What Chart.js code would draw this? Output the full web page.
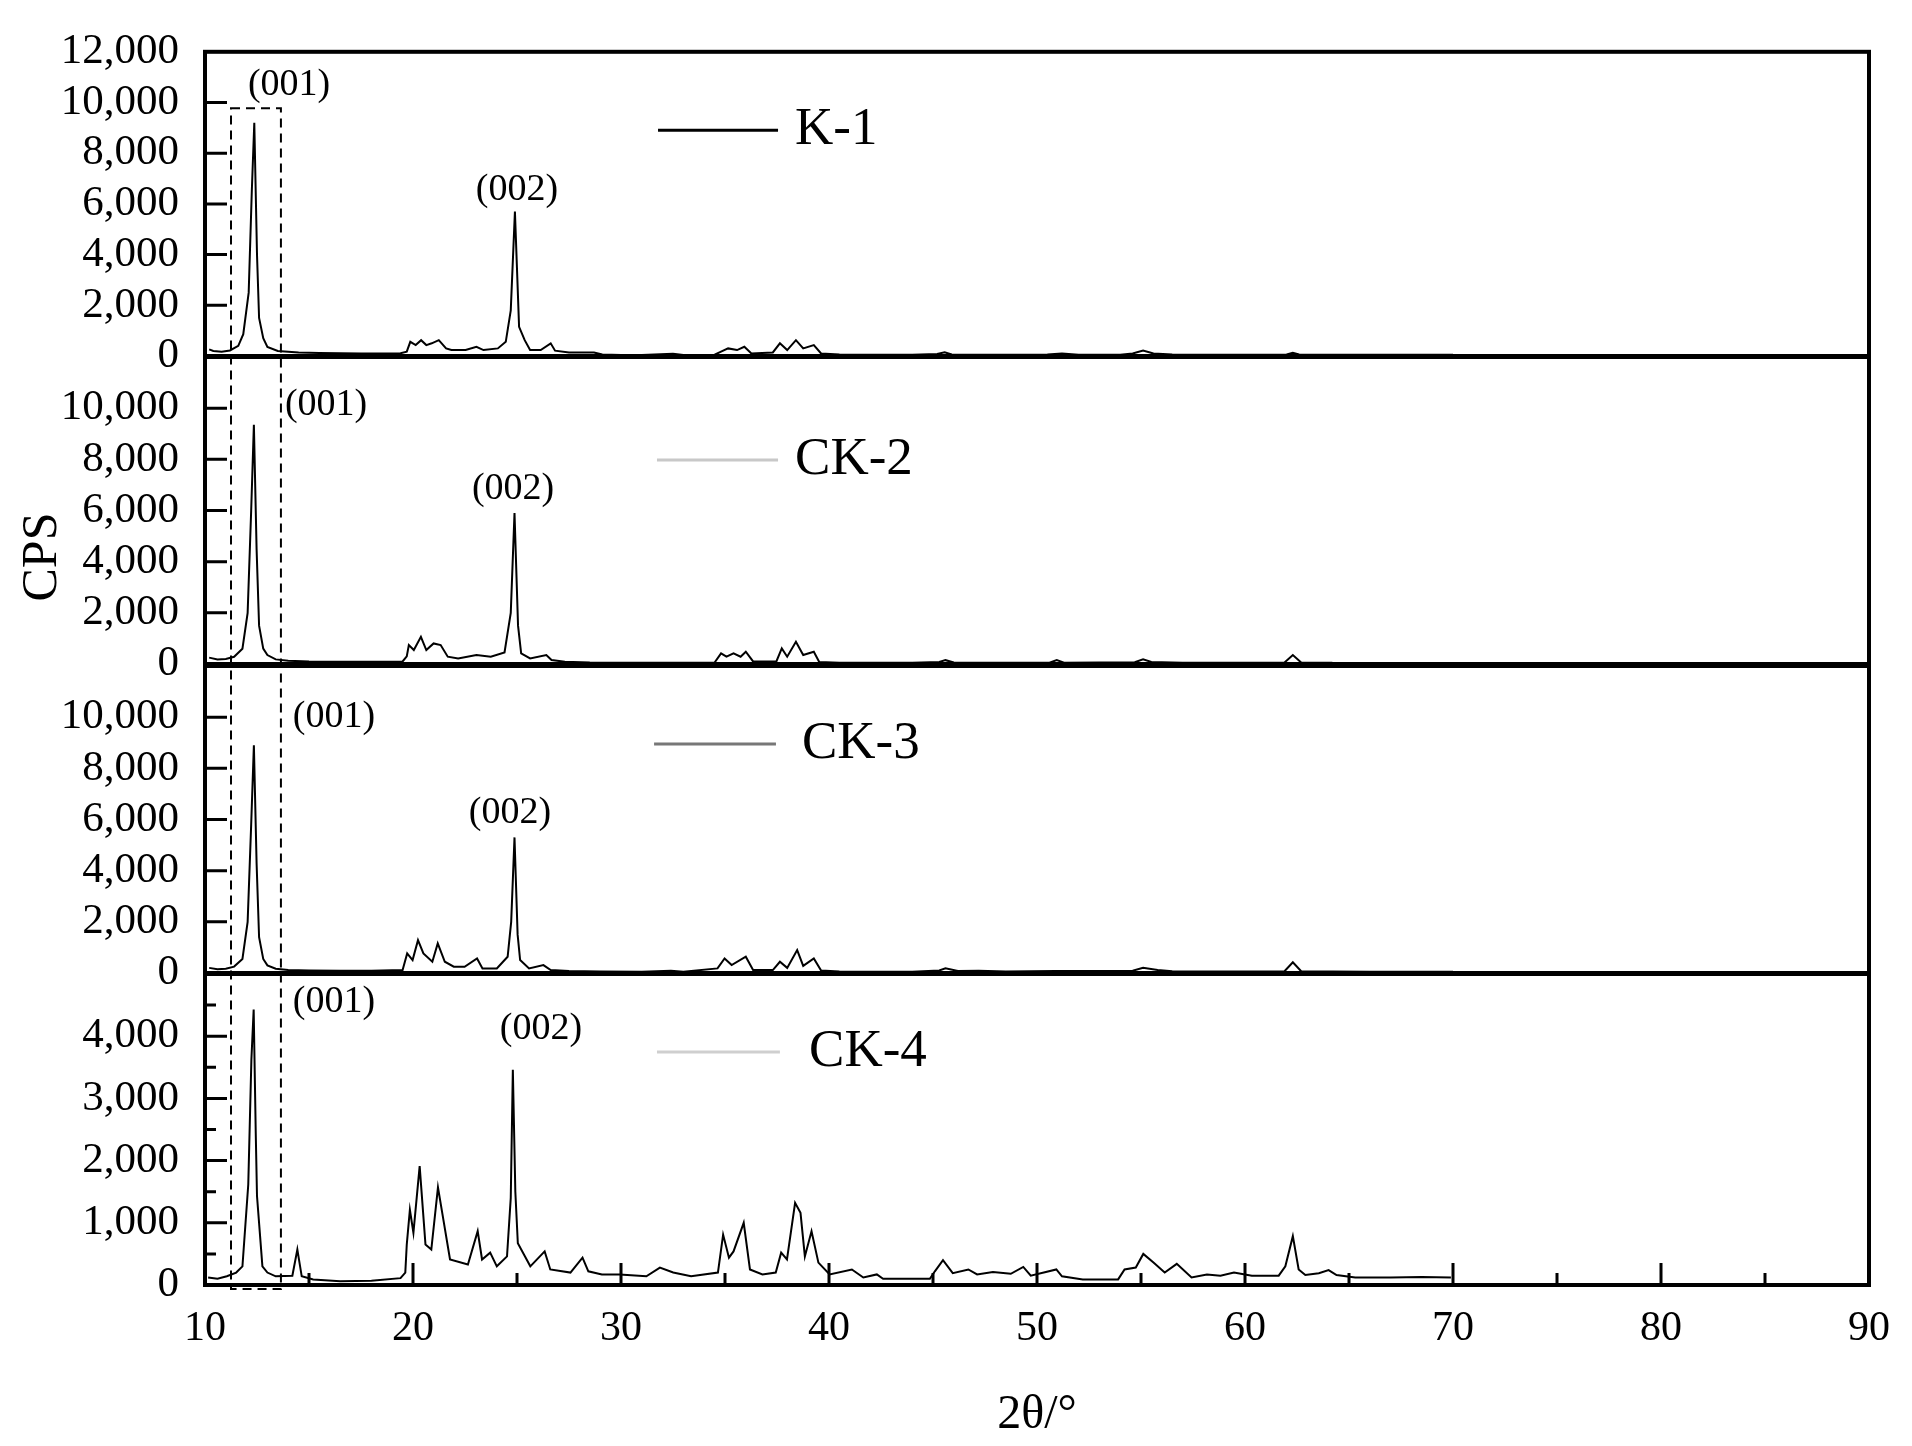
<!DOCTYPE html>
<html>
<head>
<meta charset="utf-8">
<script src="https://cdn.jsdelivr.net/npm/chart.js@4.4.1/dist/chart.umd.min.js"></script>
<style>
  html, body { margin: 0; padding: 0; background: #fff; }
  #wrap { position: relative; width: 1912px; height: 1446px; background: #fff; }
  #wrap canvas { position: absolute; left: 0; top: 0; }
</style>
</head>
<body>
<div id="wrap">
  <canvas id="p1" width="1912" height="1446"></canvas>
  <canvas id="p2" width="1912" height="1446"></canvas>
  <canvas id="p3" width="1912" height="1446"></canvas>
  <canvas id="p4" width="1912" height="1446"></canvas>
</div>
<script>
// 2theta (deg) / CPS, one pair of arrays per sample
const k1Theta = [10.2,10.4,10.8,11.2,11.6,11.84,12.1,12.25,12.37,12.5,12.6,12.8,13.0,13.5,14.5,15.5,16.5,17.5,18.5,19.4,19.7,19.87,20.13,20.39,20.64,20.9,21.24,21.59,21.85,22.53,23.05,23.39,24.08,24.46,24.7,24.9,25.1,25.37,25.63,26.14,26.62,26.83,27.5,28.7,29.1,30,31,32.5,33,34.5,34.81,35.15,35.58,35.93,36.27,37.3,37.64,37.99,38.41,38.76,39.27,39.62,40.5,42,44,45.2,45.56,45.9,47,49,50.5,51.2,52,54,54.6,55.1,55.6,56.5,58,60,62,62.3,62.6,64,66,68,70];
const k1Cps = [260,200,170,220,400,860,2500,6500,9200,4000,1500,700,360,200,140,120,110,100,100,110,170,560,430,625,430,500,625,300,235,235,365,235,300,560,1800,5700,1150,625,235,235,500,210,140,140,60,40,40,90,40,50,170,300,235,365,100,140,500,235,625,300,430,100,60,50,50,80,150,60,50,50,60,100,50,50,100,220,100,60,50,50,60,130,60,50,50,50,50];

const ck2Theta = [10.2,10.6,11.0,11.4,11.8,12.05,12.22,12.35,12.48,12.6,12.8,13.0,13.4,14,15,16.5,18,19.5,19.7,19.8,20.04,20.38,20.64,20.99,21.33,21.67,22.17,23.05,23.74,24.4,24.7,24.88,25.05,25.2,25.63,26.41,26.66,27.3,28.5,30,32,34.5,34.81,35.07,35.41,35.75,36.0,36.35,37.47,37.73,37.99,38.41,38.76,39.27,39.53,40.5,42,44,45.3,45.6,46,48,50.6,50.95,51.3,54.7,55.1,55.5,57,60,61.9,62.3,62.7,64.2];
const ck2Cps = [250,180,200,280,600,2000,6000,9350,4500,1500,600,350,180,130,100,90,90,100,300,740,545,1060,545,805,740,285,220,350,285,450,2000,5900,1500,415,220,350,155,90,60,50,50,60,415,285,415,285,480,100,100,610,285,870,350,480,80,50,50,50,80,150,60,50,50,150,50,70,180,80,50,50,60,350,60,50];

const ck3Theta = [10.2,10.6,11.0,11.4,11.8,12.05,12.22,12.35,12.48,12.6,12.8,13.0,13.4,14,15,16.5,18,19.5,19.72,19.98,20.24,20.5,20.93,21.19,21.53,21.96,22.48,23.08,23.34,24.03,24.55,24.72,24.88,25.03,25.15,25.58,26.27,26.62,27.5,29,31,32.4,33,34.64,34.98,35.32,36.0,36.35,37.3,37.64,37.99,38.47,38.76,39.27,39.62,40.5,42,44,45.3,45.6,46.2,47.2,48.5,50.9,54.6,55.1,55.8,56.5,58,60,61.9,62.3,62.7,64.2,66,70];
const ck3Cps = [200,150,170,250,550,2000,5800,8900,4300,1400,550,300,170,120,100,90,90,115,765,505,1285,765,440,1155,440,245,245,570,180,180,635,2000,5300,1500,505,180,310,115,80,60,50,90,50,180,570,310,635,115,115,440,200,895,280,570,100,60,50,50,100,180,80,90,60,80,90,200,120,70,60,60,70,420,70,60,50,50];

const ck4Theta = [10.15,10.6,11.05,11.5,11.8,12.08,12.23,12.34,12.44,12.5,12.76,13.0,13.4,14.2,14.44,14.65,15.2,16.5,18,19.4,19.63,19.7,19.85,20.02,20.32,20.6,20.88,21.2,21.46,21.78,22.64,23.11,23.32,23.71,24.03,24.52,24.7,24.8,24.92,25.04,25.64,26.33,26.6,27.57,28.15,28.43,29.08,29.93,31.22,31.87,32.51,33.37,34.66,34.91,35.19,35.41,35.9,36.2,36.8,37.44,37.7,37.98,38.37,38.63,38.84,39.16,39.49,40.03,41.1,41.65,42.3,42.6,44.85,45.09,45.48,45.95,46.7,47.12,47.88,48.74,49.34,49.7,50.93,51.2,52.2,53.9,54.21,54.75,55.11,55.6,56.14,56.72,57.43,58.17,58.82,59.47,60.33,61.62,61.94,62.3,62.58,62.9,63.55,64.02,64.4,65.3,67,68.5,69.9];
const ck4Cps = [120,100,140,200,300,1615,3620,4430,2440,1430,300,200,140,150,570,140,90,60,70,110,200,650,1210,840,1910,650,570,1570,1050,410,330,865,410,520,300,460,1400,3460,1500,670,300,540,250,200,440,220,170,170,140,280,200,140,200,810,440,540,1000,250,170,200,520,410,1320,1160,460,865,360,170,250,120,170,100,100,220,400,190,250,170,210,180,290,150,250,140,90,90,250,280,500,360,200,340,120,170,150,200,150,150,300,785,250,160,190,240,160,120,120,130,120];

const xTicksMajor = [20, 30, 40, 50, 60, 70, 80];
const xTicksMinor = [15, 25, 35, 45, 55, 65, 75, 85];

const serif = '"Liberation Serif", "Times New Roman", serif';

const panels = [
  { id: 'p1', name: 'K-1', theta: k1Theta, cps: k1Cps, top: 49, bottom: 356, max: 12000, step: 2000, showTop: true,
    majorY: [2000, 4000, 6000, 8000, 10000], minorY: [],
    tags: [['(001)', 14.04, 10700], ['(002)', 25.0, 6560]],
    legend: { color: '#000000', y: 8910, x0: 31.78, x1: 37.55, xt: 38.37 } },
  { id: 'p2', name: 'CK-2', theta: ck2Theta, cps: ck2Cps, top: 357, bottom: 664, max: 12000, step: 2000, showTop: false,
    majorY: [2000, 4000, 6000, 8000, 10000], minorY: [],
    tags: [['(001)', 15.82, 10120], ['(002)', 24.81, 6840]],
    legend: { color: '#c8c8c8', y: 7975, x0: 31.73, x1: 37.55, xt: 38.37 } },
  { id: 'p3', name: 'CK-3', theta: ck3Theta, cps: ck3Cps, top: 666, bottom: 973, max: 12000, step: 2000, showTop: false,
    majorY: [2000, 4000, 6000, 8000, 10000], minorY: [],
    tags: [['(001)', 16.2, 10000], ['(002)', 24.66, 6255]],
    legend: { color: '#777777', y: 8950, x0: 31.59, x1: 37.45, xt: 38.7 } },
  { id: 'p4', name: 'CK-4', theta: ck4Theta, cps: ck4Cps, top: 974, bottom: 1285, max: 5000, step: 1000, showTop: false,
    majorY: [1000, 2000, 3000, 4000], minorY: [500, 1500, 2500, 3500, 4500],
    tags: [['(001)', 16.2, 4550], ['(002)', 26.15, 4115]],
    legend: { color: '#cfcfcf', y: 3745, x0: 31.73, x1: 37.64, xt: 39.04 } }
];

// dashed box around the (001) reflection
const boxLeft = 11.25, boxRight = 13.65, boxTop = 9770, boxBottom = -65;

const charts = [];

function decorPlugin(p, i, isBottom) {
  return {
    id: 'decor' + i,
    afterDraw(chart) {
      const { ctx, chartArea: a } = chart;
      const x = chart.scales.x, y = chart.scales.y;
      ctx.save();
      ctx.strokeStyle = '#000';
      ctx.lineWidth = 3;
      ctx.beginPath();
      p.majorY.forEach(v => { const py = y.getPixelForValue(v); ctx.moveTo(a.left, py); ctx.lineTo(a.left + 22, py); });
      p.minorY.forEach(v => { const py = y.getPixelForValue(v); ctx.moveTo(a.left, py); ctx.lineTo(a.left + 11, py); });
      if (isBottom) {
        xTicksMajor.forEach(v => { const px = x.getPixelForValue(v); ctx.moveTo(px, a.bottom); ctx.lineTo(px, a.bottom - 22); });
        xTicksMinor.forEach(v => { const px = x.getPixelForValue(v); ctx.moveTo(px, a.bottom); ctx.lineTo(px, a.bottom - 12); });
      }
      ctx.stroke();
      ctx.lineWidth = 4;
      ctx.strokeRect(a.left, a.top, a.right - a.left, a.bottom - a.top);

      ctx.fillStyle = '#000';
      ctx.font = '38px ' + serif;
      ctx.textAlign = 'center';
      ctx.textBaseline = 'middle';
      p.tags.forEach(([t, tx, ty]) => ctx.fillText(t, x.getPixelForValue(tx), y.getPixelForValue(ty)));

      const L = p.legend;
      const ly = y.getPixelForValue(L.y);
      ctx.strokeStyle = L.color;
      ctx.lineWidth = 3;
      ctx.beginPath();
      ctx.moveTo(x.getPixelForValue(L.x0), ly);
      ctx.lineTo(x.getPixelForValue(L.x1), ly);
      ctx.stroke();
      ctx.font = '53px ' + serif;
      ctx.textAlign = 'left';
      ctx.fillText(p.name, x.getPixelForValue(L.xt), ly);
      ctx.restore();
    }
  };
}

const boxPlugin = {
  id: 'box',
  afterDraw(chart) {
    const ctx = chart.ctx;
    const x = chart.scales.x, y = chart.scales.y;
    const top = charts[0].scales.y.getPixelForValue(boxTop);
    const xl = x.getPixelForValue(boxLeft), xr = x.getPixelForValue(boxRight);
    const yb = y.getPixelForValue(boxBottom);
    ctx.save();
    ctx.strokeStyle = '#000';
    ctx.lineWidth = 2;
    ctx.setLineDash([9, 6]);
    ctx.strokeRect(xl, top, xr - xl, yb - top);
    ctx.setLineDash([]);
    // y axis title
    ctx.translate(43, 557);
    ctx.rotate(-Math.PI / 2);
    ctx.fillStyle = '#000';
    ctx.font = '50px ' + serif;
    ctx.textAlign = 'center';
    ctx.textBaseline = 'middle';
    ctx.fillText('CPS', 0, 0);
    ctx.restore();
  }
};

panels.forEach((p, i) => {
  const isBottom = i === panels.length - 1;
  const points = p.theta.map((t, k) => ({ x: t, y: p.cps[k] }));
  const chart = new Chart(document.getElementById(p.id), {
    type: 'line',
    data: {
      datasets: [{
        label: p.name,
        data: points,
        borderColor: '#000',
        borderWidth: 2,
        pointRadius: 0,
        tension: 0,
        fill: false
      }]
    },
    options: {
      responsive: false,
      animation: false,
      devicePixelRatio: 1,
      layout: {
        autoPadding: false,
        padding: { left: 0, right: 43, top: p.top, bottom: isBottom ? 0 : 1446 - p.bottom }
      },
      plugins: { legend: { display: false }, tooltip: { enabled: false } },
      scales: {
        x: {
          type: 'linear',
          min: 10,
          max: 90,
          display: isBottom,
          grid: { display: false, drawTicks: false },
          border: { display: false },
          ticks: { stepSize: 10, autoSkip: false, maxRotation: 0, padding: 19, color: '#000', font: { family: serif, size: 42 } },
          title: { display: true, text: '2θ/°', color: '#000', font: { family: serif, size: 48 }, padding: { top: 0, bottom: 2 } },
          afterFit(scale) { if (isBottom) scale.height = 161; }
        },
        y: {
          type: 'linear',
          min: 0,
          max: p.max,
          grid: { display: false, drawTicks: false },
          border: { display: false },
          ticks: {
            stepSize: p.step,
            autoSkip: false,
            padding: 26,
            color: '#000',
            font: { family: serif, size: 43 },
            callback: v => (v === p.max && !p.showTop) ? '' : v.toLocaleString('en-US')
          },
          afterFit(scale) { scale.width = 205; }
        }
      }
    },
    plugins: isBottom ? [decorPlugin(p, i, true), boxPlugin] : [decorPlugin(p, i, false)]
  });
  charts.push(chart);
});
</script>
</body>
</html>
